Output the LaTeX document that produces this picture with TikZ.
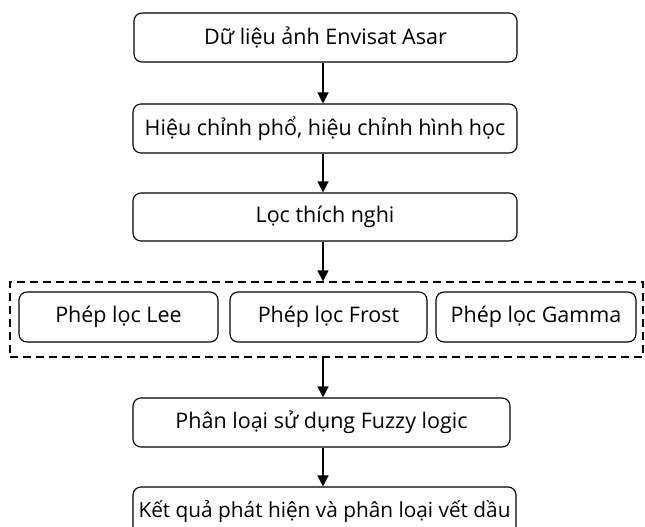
\documentclass[tikz,border=0pt]{standalone}
\usepackage{fontspec}
\setmainfont{Open Sans}
\usetikzlibrary{arrows.meta,calc}
\begin{document}
\begin{tikzpicture}[x=1pt,y=-1pt,
  box/.style={draw,line width=1.1pt,rounded corners=8pt,minimum height=49pt,inner sep=0pt,font=\fontsize{21.5}{25}\selectfont},
  grp/.style={draw,line width=1.3pt,dash pattern=on 8pt off 5pt,inner sep=0pt},
  arr/.style={-{Triangle[length=11pt,width=11pt]},line width=1.3pt}]
\useasboundingbox (0,0) rectangle (645,527);
\clip (0,0) rectangle (645,527);
\node[box,minimum width=383pt] (b1) at (325.5,37.5) {Dữ liệu ảnh Envisat Asar};
\node[box,minimum width=384pt] (b2) at (325,128.5) {Hiệu chỉnh phổ, hiệu chỉnh hình học};
\node[box,minimum width=384pt,minimum height=48pt] (b3) at (325,217) {Lọc thích nghi};
\node[grp,minimum width=633pt,minimum height=75pt] (g) at (326.5,319.5) {};
\node[box,minimum width=199pt,minimum height=50pt] (lee) at (118.5,317) {Phép lọc Lee};
\node[box,minimum width=197pt,minimum height=50pt] (frost) at (328.5,317) {Phép lọc Frost};
\node[box,minimum width=200pt,minimum height=50pt] (gamma) at (536,317) {Phép lọc Gamma};
\node[box,minimum width=377pt] (b5) at (321.5,422.5) {Phân loại sử dụng Fuzzy logic};
\node[box,minimum width=383pt,font=\fontsize{20.8}{25}\selectfont] (b6) at (324.5,511.5) {Kết quả phát hiện và phân loại vết dầu};
\draw[arr] (b1.south -| 323,0) -- (b2.north -| 323,0);
\draw[arr] (b2.south -| 323,0) -- (b3.north -| 323,0);
\draw[arr] (b3.south -| 323,0) -- (g.north -| 323,0);
\draw[arr] (g.south -| 323,0) -- (b5.north -| 323,0);
\draw[arr] (b5.south -| 323,0) -- (b6.north -| 323,0);
\end{tikzpicture}
\end{document}
